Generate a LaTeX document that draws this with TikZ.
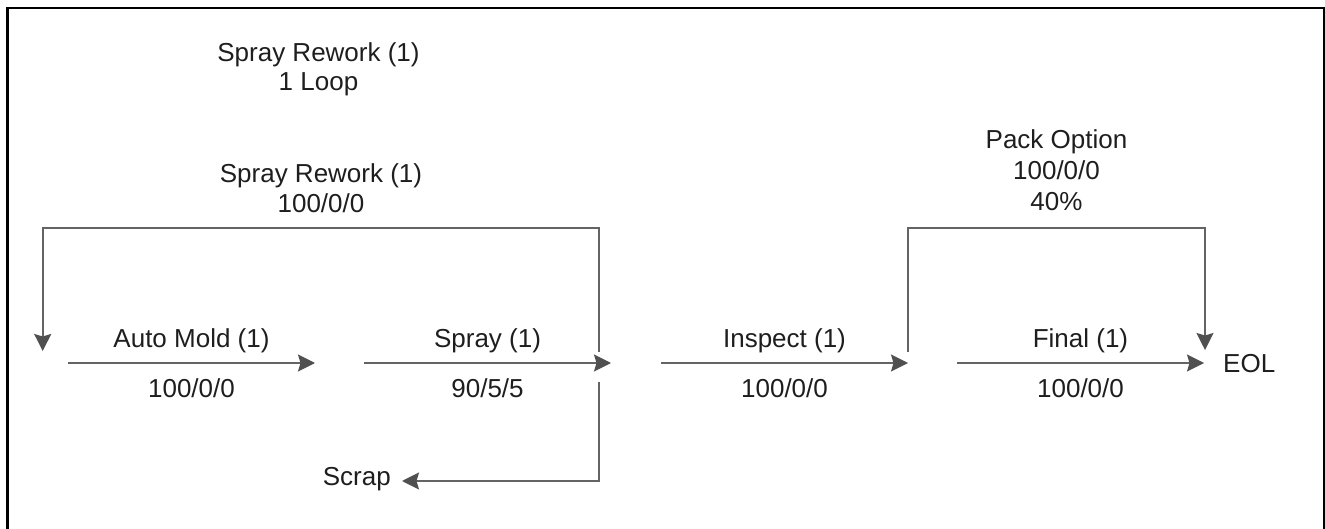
\documentclass[tikz,border=0pt]{standalone}
\usepackage{fontspec}
\setmainfont{Liberation Sans}
\usetikzlibrary{arrows.meta}
\definecolor{edge}{RGB}{100,100,100}
\definecolor{head}{RGB}{80,80,80}
\definecolor{ink}{RGB}{30,30,30}
\begin{document}
\begin{tikzpicture}[x=1pt,y=-1pt,
  conn/.style={draw=edge, line width=1.8pt},
  flow/.style={conn, -{Stealth[length=17pt,width=17pt,inset=2.5pt,fill=head,color=head]}},
  lbl/.style={font=\fontsize{26}{30}\selectfont, text=ink, inner sep=0pt, anchor=base},
  up/.style={lbl, pos=0.5, yshift=16pt},
  down/.style={lbl, pos=0.5, yshift=-34pt},
]
\useasboundingbox (0,0) rectangle (1325,529);
% frame (bottom edge lies outside the page)
\draw[line width=2.5pt, black] (7.3,8) rectangle (1323.8,560);

% junction points on the main flow line
\coordinate (a0) at (68,363);
\coordinate (a1) at (315,363);
\coordinate (s0) at (364,363);
\coordinate (s1) at (611,363);
\coordinate (i0) at (661,363);
\coordinate (i1) at (908,363);
\coordinate (f0) at (957,363);
\coordinate (f1) at (1204,363);

% main process steps
\draw[flow] (a0) -- node[up] (amName) {Auto Mold (1)} node[down] (amYield) {100/0/0} (a1);
\draw[flow] (s0) -- node[up] (spName) {Spray (1)} node[down] (spYield) {90/5/5} (s1);
\draw[flow] (i0) -- node[up] (inName) {Inspect (1)} node[down] (inYield) {100/0/0} (i1);
\draw[flow] (f0) -- node[up] (fiName) {Final (1)} node[down] (fiYield) {100/0/0} (f1);

\node[lbl, anchor=base west] (eol) at (1223,372) {EOL};

% rework loop back to the start
\coordinate (rwFrom) at (599,352);
\coordinate (rwCornerR) at (599,228);
\coordinate (rwCornerL) at (42.7,228);
\coordinate (rwTo) at (42.7,351);
\draw[flow] (rwFrom) -- (rwCornerR) -- (rwCornerL) -- (rwTo);
\node[lbl] (rwName) at (321,183) {Spray Rework (1)};
\node[lbl] (rwYield) at (321,213) {100/0/0};

% scrap branch
\coordinate (scFrom) at (599,382);
\coordinate (scCorner) at (599,481);
\coordinate (scTo) at (402,481);
\node[lbl, anchor=east] (scrap) at (391,479) {Scrap};
\draw[flow] (scFrom) -- (scCorner) -- (scTo);

% pack option bypass
\coordinate (pkFrom) at (908,352);
\coordinate (pkCornerL) at (908,228);
\coordinate (pkCornerR) at (1205,228);
\coordinate (pkTo) at (1205,350);
\draw[flow] (pkFrom) -- (pkCornerL) -- (pkCornerR) -- (pkTo);
\node[lbl] (pkName) at (1056.5,149) {Pack Option};
\node[lbl] (pkYield) at (1056.5,180) {100/0/0};
\node[lbl] (pkShare) at (1056.5,211) {40\%};

% loop count note
\node[lbl] (rwLoopName) at (318.5,62) {Spray Rework (1)};
\node[lbl] (rwLoopCount) at (318.5,91) {1 Loop};
\end{tikzpicture}
\end{document}
